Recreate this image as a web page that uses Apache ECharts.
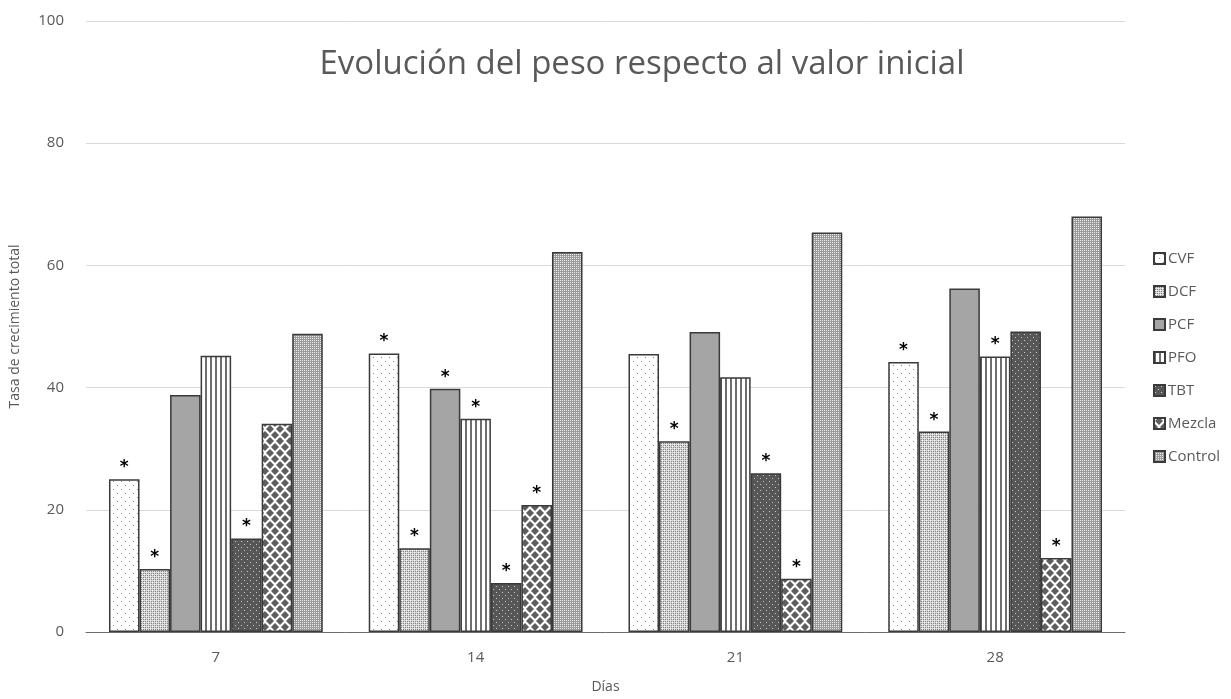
<!DOCTYPE html>
<html>
<head>
<meta charset="utf-8">
<script src="https://cdn.jsdelivr.net/npm/echarts@6/dist/echarts.min.js"></script>
<style>
  html, body { margin: 0; padding: 0; background: #fff; }
  #chart { width: 1231px; height: 699px; }
</style>
</head>
<body>
<div id="chart"></div>
<script>
// datos
const dias = ['7', '14', '21', '28'];
const nombres = ['CVF', 'DCF', 'PCF', 'PFO', 'TBT', 'Mezcla', 'Control'];

const cvf = [25.0, 45.6, 45.5, 44.2];
const dcf = [10.3, 13.7, 31.2, 32.8];
const pcf = [38.8, 39.8, 49.1, 56.2];
const pfo = [45.2, 34.9, 41.7, 45.1];
const tbt = [15.3, 8.0, 26.0, 49.2];
const mezcla = [34.1, 20.8, 8.7, 12.1];
const control = [48.8, 62.2, 65.4, 68.0];

// asterisco de significancia (1 = sí)
const sigCvf = [1, 1, 0, 1];
const sigDcf = [1, 1, 1, 1];
const sigPcf = [0, 1, 0, 0];
const sigPfo = [0, 1, 0, 1];
const sigTbt = [1, 1, 1, 0];
const sigMezcla = [0, 1, 1, 1];
const sigControl = [0, 0, 0, 0];

const valores = [cvf, dcf, pcf, pfo, tbt, mezcla, control];
const signif = [sigCvf, sigDcf, sigPcf, sigPfo, sigTbt, sigMezcla, sigControl];

// tramas de relleno
function trama(w, h, dibujar) {
  const c = document.createElement('canvas');
  c.width = w; c.height = h;
  const ctx = c.getContext('2d');
  dibujar(ctx);
  return { image: c, repeat: 'repeat' };
}

const tramas = [
  // CVF: blanco con puntos
  trama(8, 8, ctx => {
    ctx.fillStyle = '#fff'; ctx.fillRect(0, 0, 8, 8);
    ctx.fillStyle = '#8a8a8a';
    ctx.fillRect(1, 1, 1, 1); ctx.fillRect(5, 5, 1, 1);
  }),
  // DCF: trama fina gris claro
  trama(4, 4, ctx => {
    ctx.fillStyle = '#d6d6d6'; ctx.fillRect(0, 0, 4, 4);
    ctx.fillStyle = '#858585';
    ctx.fillRect(1, 1, 1, 1); ctx.fillRect(3, 3, 1, 1);
    ctx.fillRect(3, 1, 1, 1); ctx.fillRect(1, 3, 1, 1);
    ctx.fillStyle = '#ffffff';
    ctx.fillRect(2, 0, 1, 1); ctx.fillRect(0, 2, 1, 1);
  }),
  // PCF: gris liso
  '#a5a5a5',
  // PFO: rayas verticales
  trama(5, 2, ctx => {
    ctx.fillStyle = '#fff'; ctx.fillRect(0, 0, 5, 2);
    ctx.fillStyle = '#6e6e6e'; ctx.fillRect(0, 0, 2, 2);
  }),
  // TBT: gris oscuro con puntos claros
  trama(6, 6, ctx => {
    ctx.fillStyle = '#575757'; ctx.fillRect(0, 0, 6, 6);
    ctx.fillStyle = '#c8c8c8';
    ctx.fillRect(1, 1, 1, 1); ctx.fillRect(4, 4, 1, 1);
  }),
  // Mezcla: rombos
  trama(10, 12, ctx => {
    ctx.fillStyle = '#fff'; ctx.fillRect(0, 0, 10, 12);
    ctx.fillStyle = '#5e5e5e';
    const rombo = (x, y) => {
      ctx.beginPath();
      ctx.moveTo(x, y - 4); ctx.lineTo(x + 4, y);
      ctx.lineTo(x, y + 4); ctx.lineTo(x - 4, y);
      ctx.closePath(); ctx.fill();
    };
    rombo(5, 3);
    rombo(0, 9); rombo(10, 9);
    rombo(5, 15); rombo(0, -3); rombo(10, -3);
  }),
  // Control: punteado fino
  trama(2, 2, ctx => {
    ctx.fillStyle = '#9a9a9a'; ctx.fillRect(0, 0, 2, 2);
    ctx.fillStyle = '#ececec';
    ctx.fillRect(0, 0, 1, 1);
  })
];

const chart = echarts.init(document.getElementById('chart'));

const series = nombres.map((nombre, i) => ({
  name: nombre,
  type: 'bar',
  barGap: '0%',
  barCategoryGap: '17.7%',
  data: valores[i],
  itemStyle: {
    color: tramas[i],
    borderColor: '#3a3a3a',
    borderWidth: 1.5
  },
  label: {
    show: true,
    position: 'top',
    distance: 3,
    color: '#000',
    fontSize: 17,
    fontWeight: 'bold',
    fontFamily: 'DejaVu Sans',
    formatter: p => signif[i][p.dataIndex] ? '*' : ''
  }
}));

const option = {
  animation: false,
  backgroundColor: '#fff',
  title: {
    text: 'Evolución del peso respecto al valor inicial',
    left: 637,
    top: 43,
    textAlign: 'center',
    textStyle: {
      fontFamily: 'Open Sans',
      fontWeight: 'normal',
      fontSize: 33,
      color: '#595959'
    }
  },
  legend: {
    orient: 'vertical',
    left: 1148,
    top: 246,
    itemGap: 18,
    itemWidth: 11,
    itemHeight: 11,
    icon: 'rect',
    textStyle: {
      fontFamily: 'Open Sans',
      fontSize: 15,
      color: '#595959',
      padding: [0, 0, 0, -2]
    },
    data: nombres
  },
  grid: {
    left: 85,
    right: 106,
    top: 21,
    bottom: 65
  },
  xAxis: {
    type: 'category',
    data: dias,
    name: 'Días',
    nameLocation: 'middle',
    nameGap: 48,
    nameTextStyle: { fontFamily: 'Open Sans', fontSize: 14, color: '#595959' },
    axisLine: { lineStyle: { color: '#6b6b6b', width: 1 } },
    axisTick: { show: false },
    axisLabel: { fontFamily: 'Open Sans', fontSize: 15, color: '#595959', margin: 18 }
  },
  yAxis: {
    type: 'value',
    min: 0,
    max: 100,
    interval: 20,
    name: 'Tasa de crecimiento total',
    nameLocation: 'middle',
    nameGap: 64,
    nameTextStyle: { fontFamily: 'Open Sans', fontSize: 14, color: '#595959' },
    axisLine: { show: false },
    axisTick: { show: false },
    axisLabel: { fontFamily: 'Open Sans', fontSize: 15, color: '#595959', margin: 22 },
    splitLine: { lineStyle: { color: '#d9d9d9', width: 1 } }
  },
  series: series
};

chart.setOption(option);
</script>
</body>
</html>
